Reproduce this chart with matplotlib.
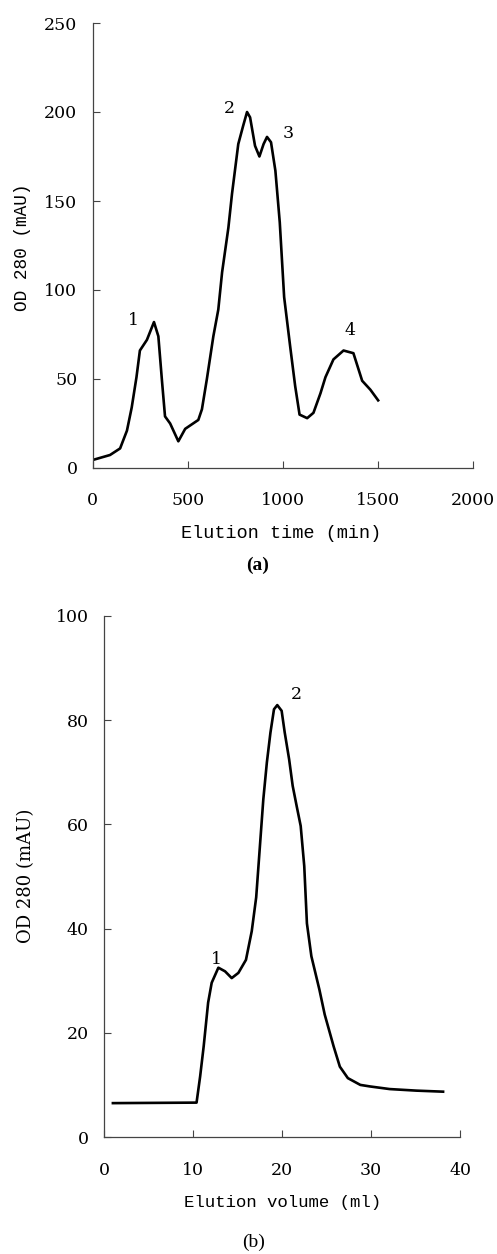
import matplotlib
matplotlib.use("Agg")
import matplotlib.pyplot as plt

# ---- data: panel (a) ----
a_time = [0, 91, 144, 180, 205, 230, 248, 285, 322, 345, 364, 380, 407, 450, 486,
          555, 574, 600, 634, 660, 680, 713, 732, 765, 790, 811, 827, 853, 876, 898,
          916, 937, 960, 983, 1006, 1038, 1064, 1087, 1127, 1160, 1197, 1223, 1265,
          1318, 1370, 1416, 1459, 1500]
a_od = [4.5, 7.3, 11, 21, 34, 51, 66, 72, 82, 74, 49, 29, 25, 15, 22,
        27, 33, 50, 74, 89, 110, 135, 154, 182, 192, 200, 197, 181, 175, 182,
        186, 183, 167, 138, 96, 68, 46, 30, 28, 31, 42, 51, 61,
        66, 64.5, 49, 44, 38]
a_peak_labels = ["1", "2", "3", "4"]
a_peak_x = [213, 720, 1025, 1350]
a_peak_y = [83, 202, 188, 77]
a_xticks = [0, 500, 1000, 1500, 2000]
a_yticks = [0, 50, 100, 150, 200, 250]

# ---- data: panel (b) ----
b_vol = [1.0, 10.4, 10.8, 11.2, 11.7, 12.1, 12.85, 13.6, 14.35, 15.1, 15.95, 16.6,
         17.1, 17.9, 18.3, 18.7, 19.1, 19.47, 19.96, 20.3, 20.8, 21.2, 21.65, 22.1,
         22.5, 22.8, 23.3, 24.2, 24.8, 25.8, 26.5, 27.4, 28.8, 29.9, 32.1, 35.1, 38.1]
b_od = [6.5, 6.6, 11.6, 17.4, 25.8, 29.6, 32.5, 31.8, 30.5, 31.5, 34, 39.5,
        46, 64.8, 71.9, 77.6, 82.1, 82.9, 81.8, 77.7, 72.5, 67.4, 63.5, 59.7,
        52, 41, 34.7, 28.3, 23.5, 17.4, 13.5, 11.3, 10.0, 9.7, 9.2, 8.9, 8.7]
b_peak_labels = ["1", "2"]
b_peak_x = [12.6, 21.6]
b_peak_y = [34, 85]
b_xticks = [0, 10, 20, 30, 40]
b_yticks = [0, 20, 40, 60, 80, 100]

W, H = 497, 1254
fig = plt.figure(figsize=(W / 100, H / 100), dpi=100)

def px_axes(l, r, t, b):
    return fig.add_axes([l / W, 1 - b / H, (r - l) / W, (b - t) / H])

serif = "DejaVu Serif"
mono = "Liberation Mono"

def style(ax, xt, yt, xpad, ypad):
    for s in ("top", "right"):
        ax.spines[s].set_visible(False)
    for s in ("left", "bottom"):
        ax.spines[s].set_color("#444444")
        ax.spines[s].set_linewidth(0.9)
    ax.set_xticks(xt)
    ax.set_yticks(yt)
    ax.tick_params(axis="both", direction="in", length=5, width=0.8,
                   colors="#444444", labelcolor="black")
    ax.tick_params(axis="x", pad=xpad)
    ax.tick_params(axis="y", pad=ypad)
    for lab in ax.get_xticklabels() + ax.get_yticklabels():
        lab.set_fontfamily(serif)
        lab.set_fontsize(12.5)

# panel (a)
axa = px_axes(92.7, 473.3, 23, 468)
axa.plot(a_time, a_od, color="black", lw=1.9, solid_joinstyle="round")
axa.set_xlim(0, 2000)
axa.set_ylim(0, 250)
style(axa, a_xticks, a_yticks, 17, 11)
for t, x, y in zip(a_peak_labels, a_peak_x, a_peak_y):
    axa.text(x, y, t, fontfamily=serif, fontsize=12.5, ha="center", va="center")
fig.text(281 / W, 1 - 533 / H, "Elution time (min)", fontfamily=mono,
         fontsize=13.3, ha="center", va="center")
fig.text(23 / W, 1 - 247 / H, "OD 280 (mAU)", fontfamily=mono,
         fontsize=12.8, ha="center", va="center", rotation=90)
fig.text(258 / W, 1 - 565 / H, "(a)", fontfamily="Liberation Serif",
         fontweight="bold", fontsize=14, ha="center", va="center")

# panel (b)
axb = px_axes(104, 460, 616, 1137)
axb.plot(b_vol, b_od, color="black", lw=1.9, solid_joinstyle="round")
axb.set_xlim(0, 40)
axb.set_ylim(0, 100)
style(axb, b_xticks, b_yticks, 18, 11)
for t, x, y in zip(b_peak_labels, b_peak_x, b_peak_y):
    axb.text(x, y, t, fontfamily=serif, fontsize=12.5, ha="center", va="center")
fig.text(283 / W, 1 - 1202 / H, "Elution volume (ml)", fontfamily=mono,
         fontsize=12.5, ha="center", va="center")
fig.text(26 / W, 1 - 876 / H, "OD 280 (mAU)", fontfamily=serif,
         fontsize=13, ha="center", va="center", rotation=90)
fig.text(254 / W, 1 - 1242 / H, "(b)", fontfamily="Liberation Serif",
         fontsize=14, ha="center", va="center")

fig.savefig("out.png", dpi=100)
